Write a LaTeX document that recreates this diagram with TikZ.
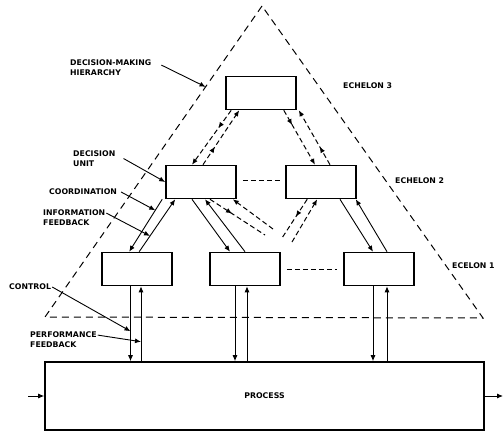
\documentclass[tikz,border=0pt]{standalone}
\usepackage{fontspec}
\setsansfont{DejaVu Sans}
\usetikzlibrary{arrows.meta,decorations.markings,calc}

\begin{document}
\begin{tikzpicture}[x=1pt, y=-1pt,
  unit/.style={draw, line width=1.6pt, minimum width=70pt, minimum height=33pt, inner sep=0pt},
  lbl/.style={font=\sffamily\bfseries\fontsize{7.8}{10.5}\selectfont, inner sep=0pt, align=left},
  link/.style={line width=0.9pt, -{Latex[length=6pt,width=5pt]}},
  dline/.style={line width=1pt, dash pattern=on 5pt off 3pt},
  dlink/.style={dline, -{Latex[length=6pt,width=5pt]}},
  midarrow/.style={postaction={decorate, decoration={markings, mark=at position #1 with {\arrow{Latex[length=6pt,width=5pt]}}}}},
  tri/.style={line width=1pt, dash pattern=on 7pt off 5pt}]
\useasboundingbox (0,0) rectangle (504,431);

% Decision-making hierarchy
\coordinate (apex) at (262,6);
\coordinate (bl) at (45,317);
\coordinate (br) at (483,318);
\draw[tri] (apex) -- (bl) -- (br) -- cycle;

% Decision units
\node[unit] (e3) at (261,93) {};
\node[unit] (e21) at (201,182) {};
\node[unit] (e22) at (321,182) {};
\node[unit] (e11) at (137,269) {};
\node[unit] (e12) at (245,269) {};
\node[unit] (e13) at (379,269) {};
\node[unit, lbl, minimum width=439pt, minimum height=68pt] (proc) at (264.5,396) {PROCESS};

% Echelon 3 to echelon 2
\draw[dlink, midarrow=0.33] ([xshift=6pt]e3.south west) -- ([xshift=-9pt]e21.north);
\draw[dlink, midarrow=0.33] ([xshift=2pt]e21.north) -- ([xshift=14pt]e3.south west);
\draw[dlink, midarrow=0.27] ([xshift=-13pt]e3.south east) -- ([xshift=-6pt]e22.north);
\draw[dlink, midarrow=0.33] ([xshift=9pt]e22.north) -- ([xshift=2pt]e3.south east);

% Echelon 2 to echelon 1
\draw[link] ([xshift=-3pt]e21.south west) -- coordinate[pos=0.21] (cpt) ([xshift=28pt]e11.north west);
\draw[link] ([xshift=38pt]e11.north west) -- coordinate[pos=0.3] (ipt) ([xshift=10pt]e21.south west);
\draw[link] ([xshift=-9pt]e21.south) -- ([xshift=-15pt]e12.north);
\draw[link] (e12.north) -- ([xshift=4pt]e21.south);
\draw[link] ([xshift=19pt]e22.south) -- ([xshift=-6pt]e13.north);
\draw[link] ([xshift=8pt]e13.north) -- ([xshift=-1pt]e22.south east);

% Coordination within an echelon
\draw[dline] ([xshift=6pt,yshift=2pt]e21.east) -- ([xshift=-4pt,yshift=2pt]e22.west);
\draw[dline] ([xshift=6pt]e12.east) -- ([xshift=-6pt]e13.west);
\coordinate (fa) at (265,235);
\coordinate (fb) at (273,229);
\coordinate (fc) at (282,238);
\coordinate (fd) at (292,242);
\draw[dline, midarrow=0.4] ([xshift=9pt]e21.south) -- (fa);
\draw[dlink] (fb) -- ([xshift=-4pt]e21.south east);
\draw[dline, midarrow=0.45] ([xshift=22pt]e22.south west) -- (fc);
\draw[dlink] (fd) -- ([xshift=32pt]e22.south west);

% Echelon 1 to process
\draw[link] ([xshift=-6.5pt]e11.south) -- coordinate[pos=0.6] (kpt) ([xshift=-6.5pt]e11.south |- proc.north);
\draw[link] ([xshift=4pt]e11.south |- proc.north) -- coordinate[pos=0.26] (ppt) ([xshift=4pt]e11.south);
\draw[link] ([xshift=-10pt]e12.south) -- ([xshift=-10pt]e12.south |- proc.north);
\draw[link] ([xshift=2pt]e12.south |- proc.north) -- ([xshift=2pt]e12.south);
\draw[link] ([xshift=-6pt]e13.south) -- ([xshift=-6pt]e13.south |- proc.north);
\draw[link] ([xshift=8pt]e13.south |- proc.north) -- ([xshift=8pt]e13.south);

% Process input and output
\coordinate (pin) at (28,396);
\coordinate (pout) at (503,396);
\draw[link] (pin) -- (proc.west);
\draw[link] (proc.east) -- (pout);

% Labels
\coordinate (tpt) at ($(apex)!0.26!(bl)$);
\node[lbl, anchor=west] (hier) at (70,67.5) {DECISION-MAKING\\HIERARCHY};
\node[lbl, anchor=west] (ech3) at (343,86) {ECHELON 3};
\node[lbl, anchor=west] (dunit) at (73,158.5) {DECISION\\UNIT};
\node[lbl, anchor=west] (coord) at (49,192) {COORDINATION};
\node[lbl, anchor=west] (info) at (43,217.5) {INFORMATION\\FEEDBACK};
\node[lbl, anchor=west] (ech2) at (395,181) {ECHELON 2};
\node[lbl, anchor=west] (ech1) at (452,266) {ECELON 1};
\node[lbl, anchor=west] (ctrl) at (9,287) {CONTROL};
\node[lbl, anchor=west] (perf) at (30,339.5) {PERFORMANCE\\FEEDBACK};

% Leaders
\draw[link] ([xshift=10pt,yshift=-6pt]hier.north east) -- (tpt);
\draw[link] ([xshift=8pt]dunit.east) -- (e21.west);
\draw[link] ([xshift=4pt]coord.east) -- (cpt);
\draw[link] ([xshift=1pt,yshift=-4pt]info.north east) -- (ipt);
\draw[link] ([xshift=1pt]ctrl.east) -- (kpt);
\draw[link] ([xshift=1pt,yshift=-4pt]perf.north east) -- (ppt);
\end{tikzpicture}
\end{document}
